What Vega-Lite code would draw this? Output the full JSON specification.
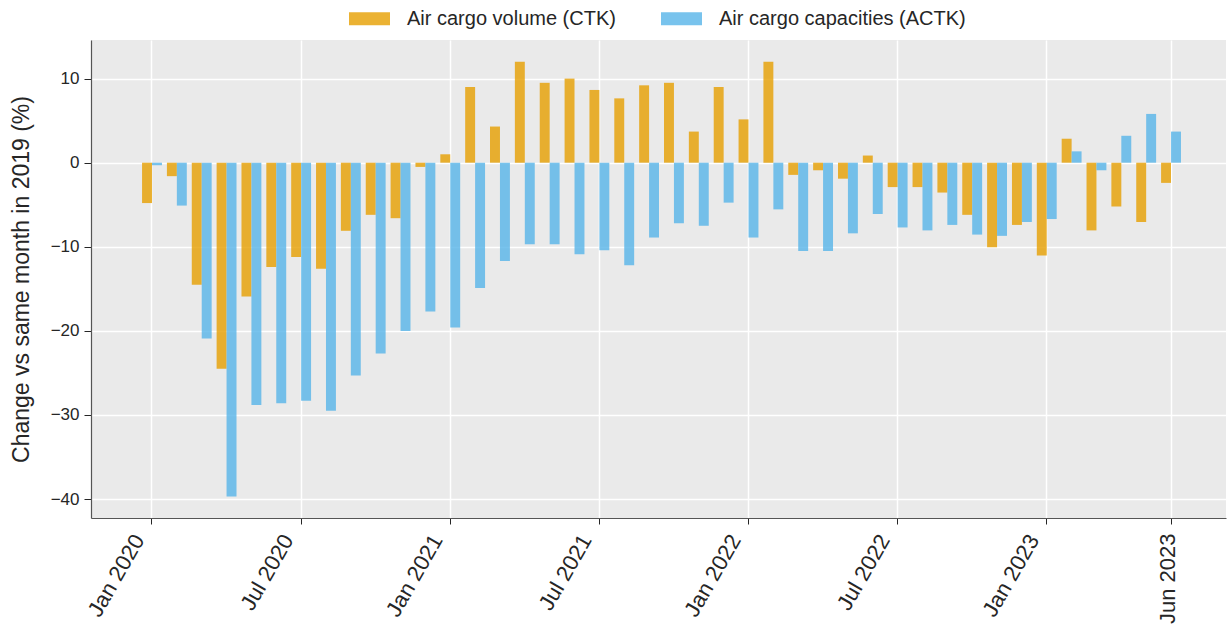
{
  "$schema": "https://vega.github.io/schema/vega-lite/v6.json",
  "width": 1135,
  "height": 478,
  "autosize": "none",
  "padding": {"left": 91, "top": 40, "right": 1, "bottom": 110},
  "background": "white",
  "config": {
    "view": {"fill": "#EAEAEA", "stroke": null},
    "font": "Liberation Sans"
  },
  "data": {
    "values": [
      {"month": "Jan 2020", "ctk": -4.8, "actk": -0.3},
      {"month": "Feb 2020", "ctk": -1.6, "actk": -5.1},
      {"month": "Mar 2020", "ctk": -14.5, "actk": -20.9},
      {"month": "Apr 2020", "ctk": -24.5, "actk": -39.7},
      {"month": "May 2020", "ctk": -15.9, "actk": -28.8},
      {"month": "Jun 2020", "ctk": -12.4, "actk": -28.6},
      {"month": "Jul 2020", "ctk": -11.2, "actk": -28.3},
      {"month": "Aug 2020", "ctk": -12.6, "actk": -29.5},
      {"month": "Sep 2020", "ctk": -8.1, "actk": -25.3},
      {"month": "Oct 2020", "ctk": -6.2, "actk": -22.7},
      {"month": "Nov 2020", "ctk": -6.6, "actk": -20.0},
      {"month": "Dec 2020", "ctk": -0.5, "actk": -17.7},
      {"month": "Jan 2021", "ctk": 1.0, "actk": -19.6},
      {"month": "Feb 2021", "ctk": 9.0, "actk": -14.9},
      {"month": "Mar 2021", "ctk": 4.3, "actk": -11.7},
      {"month": "Apr 2021", "ctk": 12.0, "actk": -9.7},
      {"month": "May 2021", "ctk": 9.5, "actk": -9.7},
      {"month": "Jun 2021", "ctk": 10.0, "actk": -10.9},
      {"month": "Jul 2021", "ctk": 8.65, "actk": -10.4},
      {"month": "Aug 2021", "ctk": 7.65, "actk": -12.2},
      {"month": "Sep 2021", "ctk": 9.2, "actk": -8.9},
      {"month": "Oct 2021", "ctk": 9.5, "actk": -7.2},
      {"month": "Nov 2021", "ctk": 3.7, "actk": -7.5},
      {"month": "Dec 2021", "ctk": 9.0, "actk": -4.75},
      {"month": "Jan 2022", "ctk": 5.15, "actk": -8.9},
      {"month": "Feb 2022", "ctk": 12.0, "actk": -5.55},
      {"month": "Mar 2022", "ctk": -1.45, "actk": -10.5},
      {"month": "Apr 2022", "ctk": -0.9, "actk": -10.5},
      {"month": "May 2022", "ctk": -1.9, "actk": -8.4},
      {"month": "Jun 2022", "ctk": 0.85, "actk": -6.1},
      {"month": "Jul 2022", "ctk": -2.9, "actk": -7.7},
      {"month": "Aug 2022", "ctk": -2.9, "actk": -8.05},
      {"month": "Sep 2022", "ctk": -3.55, "actk": -7.4},
      {"month": "Oct 2022", "ctk": -6.2, "actk": -8.55},
      {"month": "Nov 2022", "ctk": -10.05, "actk": -8.7},
      {"month": "Dec 2022", "ctk": -7.4, "actk": -7.05},
      {"month": "Jan 2023", "ctk": -11.05, "actk": -6.7},
      {"month": "Feb 2023", "ctk": 2.85, "actk": 1.35},
      {"month": "Mar 2023", "ctk": -8.05, "actk": -0.9},
      {"month": "Apr 2023", "ctk": -5.2, "actk": 3.2},
      {"month": "May 2023", "ctk": -7.05, "actk": 5.8},
      {"month": "Jun 2023", "ctk": -2.4, "actk": 3.7}
    ]
  },
  "transform": [{"fold": ["ctk", "actk"], "as": ["series", "value"]}],
  "mark": {"type": "bar", "opacity": 0.8},
  "encoding": {
    "x": {
      "field": "month",
      "type": "nominal",
      "scale": {
        "domain": ["Dec 2019",
          "Jan 2020", "Feb 2020", "Mar 2020", "Apr 2020", "May 2020", "Jun 2020", "Jul 2020", "Aug 2020", "Sep 2020", "Oct 2020", "Nov 2020", "Dec 2020",
          "Jan 2021", "Feb 2021", "Mar 2021", "Apr 2021", "May 2021", "Jun 2021", "Jul 2021", "Aug 2021", "Sep 2021", "Oct 2021", "Nov 2021", "Dec 2021",
          "Jan 2022", "Feb 2022", "Mar 2022", "Apr 2022", "May 2022", "Jun 2022", "Jul 2022", "Aug 2022", "Sep 2022", "Oct 2022", "Nov 2022", "Dec 2022",
          "Jan 2023", "Feb 2023", "Mar 2023", "Apr 2023", "May 2023", "Jun 2023", "Jul 2023"],
        "paddingInner": 0.2,
        "paddingOuter": 0.933,
        "align": 0.565
      },
      "axis": {
        "values": ["Jan 2020", "Jul 2020", "Jan 2021", "Jul 2021", "Jan 2022", "Jul 2022", "Jan 2023", "Jun 2023"],
        "title": null,
        "bandPosition": 0.5,
        "grid": true,
        "gridColor": "white",
        "gridWidth": 1.5,
        "domainColor": "#555555",
        "domainWidth": 1.2,
        "tickColor": "#262626",
        "tickSize": 6,
        "labelFontSize": 22,
        "labelColor": "#262626",
        "labelAngle": {"expr": "datum.value === 'Jun 2023' ? 270 : 300"},
        "labelAlign": "right",
        "labelBaseline": "middle",
        "labelPadding": {"condition": {"test": "datum.value === 'Jun 2023'", "value": 9}, "value": 12},
        "labelOffset": {"condition": {"test": "datum.value === 'Jun 2023'", "value": -3}, "value": -13},
        "labelOverlap": false
      }
    },
    "xOffset": {
      "field": "series",
      "type": "nominal",
      "sort": ["ctk", "actk"],
      "scale": {"paddingInner": 0, "paddingOuter": 0}
    },
    "y": {
      "field": "value",
      "type": "quantitative",
      "scale": {"domain": [-42.25, 14.59], "nice": false, "zero": false},
      "axis": {
        "values": [-40, -30, -20, -10, 0, 10],
        "title": "Change vs same month in 2019 (%)",
        "titleFontSize": 23,
        "titleFontWeight": "normal",
        "titleColor": "#262626",
        "titlePadding": 17,
        "grid": true,
        "gridColor": "white",
        "gridWidth": 1.5,
        "domainColor": "#555555",
        "domainWidth": 1.2,
        "tickColor": "#262626",
        "tickSize": 7,
        "labelFontSize": 17,
        "labelColor": "#262626",
        "labelPadding": 5,
        "labelExpr": "replace(datum.label, '-', '\u2212')"
      }
    },
    "color": {
      "field": "series",
      "type": "nominal",
      "scale": {"domain": ["ctk", "actk"], "range": ["#E69F00", "#56B4E9"]},
      "legend": {
        "orient": "none",
        "legendX": 258,
        "legendY": -42,
        "direction": "horizontal",
        "title": null,
        "symbolType": "M-1,-0.317H1V0.317H-1Z",
        "symbolSize": 1681,
        "symbolStrokeWidth": 0,
        "symbolOpacity": 0.8,
        "labelFontSize": 20,
        "labelColor": "#262626",
        "labelOffset": 17,
        "labelLimit": 0,
        "columnPadding": 45,
        "padding": 0,
        "labelExpr": "datum.value === 'ctk' ? 'Air cargo volume (CTK)' : 'Air cargo capacities (ACTK)'"
      }
    }
  }
}
